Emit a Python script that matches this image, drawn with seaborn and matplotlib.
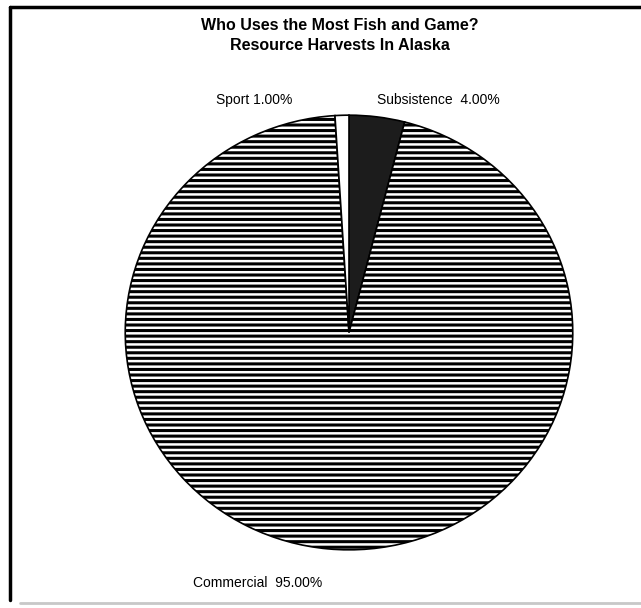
import matplotlib
matplotlib.use("Agg")
import matplotlib.pyplot as plt
import seaborn as sns

# data (clockwise from 12 o'clock)
categories = ["Subsistence", "Commercial", "Sport"]
shares = [4.00, 95.00, 1.00]
label_text = ["Subsistence  4.00%", "Commercial  95.00%", "Sport 1.00%"]

sns.set_theme(style="white")
plt.rcParams["font.family"] = ["Liberation Sans", "DejaVu Sans"]
plt.rcParams["hatch.linewidth"] = 2.2

W, H = 641, 608
fig = plt.figure(figsize=(W / 100, H / 100), dpi=100)
fig.patch.set_facecolor("white")

# pie is a slightly wide ellipse in the scan
left, right, top, bottom = 123, 575, 113, 552
ax = fig.add_axes([left / W, 1 - bottom / H, (right - left) / W, (bottom - top) / H])

wedges, _ = ax.pie(
    shares,
    startangle=90,
    counterclock=False,
    colors=["#1c1c1c", "white", "white"],
    wedgeprops=dict(edgecolor="black", linewidth=1.2),
)
wedges[1].set_hatch("---")
ax.set_aspect("auto")
ax.set_xlim(-1.01, 1.01)
ax.set_ylim(-1.01, 1.01)
ax.axis("off")

# title
fig.text(340 / W, 1 - 26 / H, "Who Uses the Most Fish and Game?", ha="center", va="center",
         fontsize=11.5, fontweight="bold", color="black")
fig.text(340 / W, 1 - 46 / H, "Resource Harvests In Alaska", ha="center", va="center",
         fontsize=11.5, fontweight="bold", color="black")

# slice labels
label_pos = {"Subsistence": (377, 100, "left"), "Commercial": (258, 583, "center"), "Sport": (292, 100, "right")}
for name, txt in zip(categories, label_text):
    x, y, ha = label_pos[name]
    fig.text(x / W, 1 - y / H, txt, ha=ha, va="center", fontsize=10, color="black")

# scanned frame
fig.add_artist(plt.Line2D([10 / W, 10 / W], [1 - 7 / H, 1 - 600 / H], color="black", lw=2.5))
fig.add_artist(plt.Line2D([10 / W, 1.0], [1 - 7 / H, 1 - 7 / H], color="black", lw=2.5))
fig.add_artist(plt.Line2D([20 / W, 1.0], [1 - 603 / H, 1 - 603 / H], color="#c8c8c8", lw=2))

fig.savefig("out.png", dpi=100)
